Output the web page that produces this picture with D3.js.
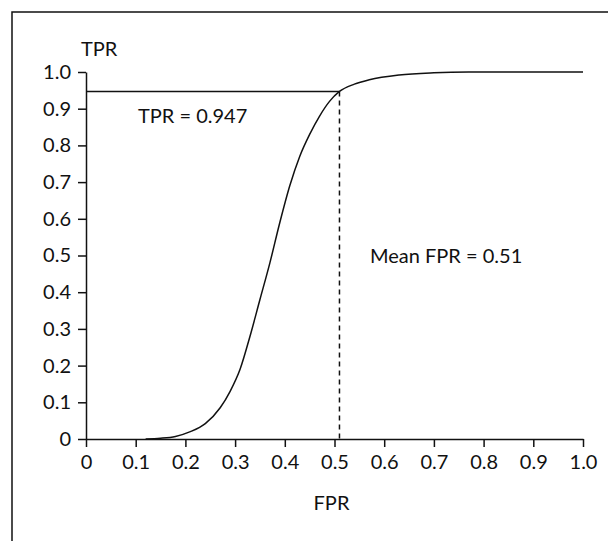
<!DOCTYPE html>
<html>
<head>
<meta charset="utf-8">
<script src="https://cdn.jsdelivr.net/npm/d3@7"></script>
<style>
  body { margin: 0; background: #fff; }
  svg text { font-family: Lato, "Open Sans", sans-serif; fill: #111; }
</style>
</head>
<body>
<svg></svg>
<script>
// curve
let fprValues = [0.12, 0.15, 0.18, 0.21, 0.24, 0.27, 0.29, 0.31, 0.33, 0.35, 0.37, 0.39, 0.41, 0.43, 0.45, 0.47, 0.49, 0.51, 0.54, 0.57, 0.63, 0.70, 0.77, 1.0];
let tprValues = [0, 0.002, 0.007, 0.02, 0.042, 0.085, 0.13, 0.19, 0.28, 0.38, 0.48, 0.59, 0.69, 0.77, 0.83, 0.88, 0.92, 0.947, 0.967, 0.979, 0.992, 0.998, 1.0, 1.0];

let tickValues = [0, 0.1, 0.2, 0.3, 0.4, 0.5, 0.6, 0.7, 0.8, 0.9, 1.0];
let tickLabels = ["0", "0.1", "0.2", "0.3", "0.4", "0.5", "0.6", "0.7", "0.8", "0.9", "1.0"];

let meanFpr = 0.51;
let tprAtMean = 0.947;

let width = 608;
let height = 541;
let fontSize = 20;

let svg = d3.select("svg").attr("width", width).attr("height", height);

// outer frame (cut off at right and bottom)
svg.append("rect")
  .attr("x", 12).attr("y", 12)
  .attr("width", 700).attr("height", 700)
  .attr("fill", "none")
  .attr("stroke", "#111")
  .attr("stroke-width", 1.5);

let xScale = d3.scaleLinear().domain([0, 1]).range([86, 583]);
let yScale = d3.scaleLinear().domain([0, 1]).range([439, 72]);

let values = fprValues.map((f, i) => ({ fpr: f, tpr: tprValues[i] }));

let xAxis = d3.axisBottom(xScale)
  .tickValues(tickValues)
  .tickFormat((d, i) => tickLabels[i])
  .tickSize(8)
  .tickSizeOuter(0)
  .tickPadding(8);

let yAxis = d3.axisLeft(yScale)
  .tickValues(tickValues)
  .tickFormat((d, i) => tickLabels[i])
  .tickSize(8)
  .tickSizeOuter(0)
  .tickPadding(7);

let gx = svg.append("g")
  .attr("transform", "translate(0," + yScale(0) + ")")
  .call(xAxis);

let gy = svg.append("g")
  .attr("transform", "translate(" + xScale(0) + ",0)")
  .call(yAxis);

[gx, gy].forEach((g) => {
  g.select(".domain").attr("stroke", "#111").attr("stroke-width", 1.5);
  g.selectAll(".tick line").attr("stroke", "#111").attr("stroke-width", 1.5);
  g.selectAll(".tick text")
    .attr("font-size", fontSize)
    .attr("font-family", "Lato, 'Open Sans', sans-serif")
    .attr("fill", "#111");
});

// horizontal line at TPR of mean FPR
svg.append("line")
  .attr("x1", xScale(0)).attr("x2", xScale(meanFpr))
  .attr("y1", yScale(tprAtMean)).attr("y2", yScale(tprAtMean))
  .attr("stroke", "#111").attr("stroke-width", 1.5);

// dashed line at mean FPR
svg.append("line")
  .attr("x1", xScale(meanFpr)).attr("x2", xScale(meanFpr))
  .attr("y1", yScale(tprAtMean)).attr("y2", yScale(0))
  .attr("stroke", "#111").attr("stroke-width", 1.5)
  .attr("stroke-dasharray", "5,4");

let line = d3.line()
  .x((d) => xScale(d.fpr))
  .y((d) => yScale(d.tpr))
  .curve(d3.curveMonotoneX);

svg.append("path")
  .datum(values)
  .attr("d", line)
  .attr("fill", "none")
  .attr("stroke", "#111")
  .attr("stroke-width", 1.5);

// labels
svg.append("text").attr("x", 81).attr("y", 56).attr("font-size", fontSize).text("TPR");
svg.append("text").attr("x", xScale(0.5) - 3).attr("y", 510).attr("text-anchor", "middle").attr("font-size", fontSize).text("FPR");
svg.append("text").attr("x", 138).attr("y", 123).attr("font-size", fontSize).text("TPR = " + tprAtMean);
svg.append("text").attr("x", 370).attr("y", 263).attr("font-size", fontSize).text("Mean FPR = " + meanFpr);
</script>
</body>
</html>
